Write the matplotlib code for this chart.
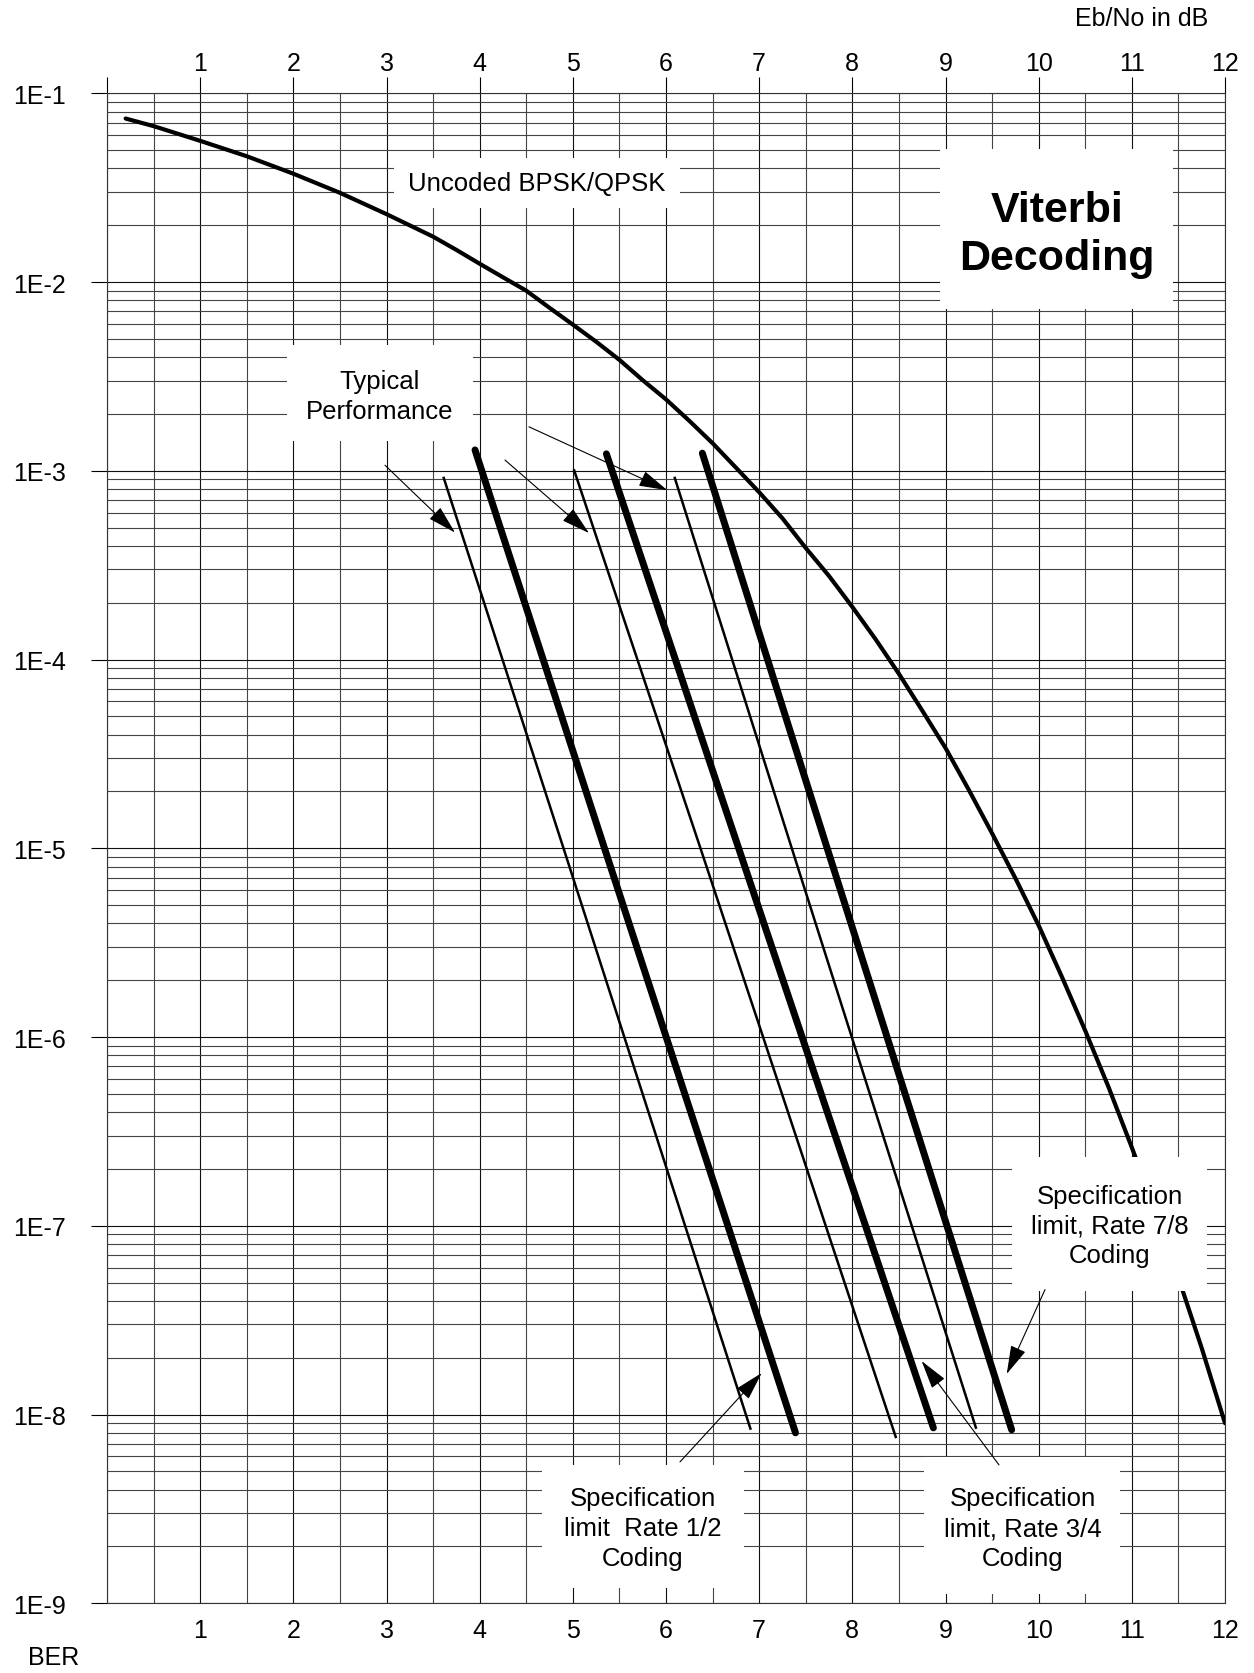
import numpy as np
import matplotlib
matplotlib.use("Agg")
import matplotlib.pyplot as plt
from matplotlib.patches import Rectangle
from matplotlib.ticker import FixedLocator, NullFormatter

plt.rcParams['font.family'] = ['Liberation Sans', 'DejaVu Sans']

# Uncoded BPSK/QPSK curve
ebno_uncoded = [0.2, 0.5, 1, 1.5, 2, 2.5, 3, 3.5, 3.75, 4, 4.25, 4.5, 4.75,
                5, 5.25, 5.5, 5.75, 6, 6.25, 6.5, 6.75, 7, 7.25, 7.5, 7.75,
                8, 8.25, 8.5, 8.75, 9, 9.25, 9.5, 9.75, 10, 10.25, 10.5,
                10.75, 11, 11.25, 11.5, 11.75, 12]
ber_uncoded = [7.35e-2, 6.7e-2, 5.6e-2, 4.64e-2, 3.75e-2, 2.97e-2, 2.29e-2,
               1.74e-2, 1.48e-2, 1.25e-2, 1.06e-2, 9.0e-3, 7.3e-3,
               5.95e-3, 4.83e-3, 3.87e-3, 3.02e-3, 2.39e-3, 1.84e-3, 1.4e-3,
               1.04e-3, 7.7e-4, 5.6e-4, 3.9e-4, 2.77e-4,
               1.9e-4, 1.28e-4, 8.4e-5, 5.37e-5, 3.4e-5, 2.04e-5, 1.2e-5,
               6.94e-6, 3.9e-6, 2.08e-6, 1.08e-6,
               5.43e-7, 2.6e-7, 1.21e-7, 5.3e-8, 2.25e-8, 9.0e-9]

# Viterbi coded lines: typical performance (thin) and specification limit (thick)
ebno_r12_typ = [3.61, 4.90, 6.91]
ber_r12_typ = [9.3e-4, 1e-5, 8.3e-9]
ebno_r12_spec = [3.95, 5.34, 7.39]
ber_r12_spec = [1.29e-3, 1e-5, 8.0e-9]
ebno_r34_typ = [5.01, 6.37, 8.47]
ber_r34_typ = [1.02e-3, 1e-5, 7.5e-9]
ebno_r34_spec = [5.36, 6.78, 8.87]
ber_r34_spec = [1.23e-3, 1e-5, 8.5e-9]
ebno_r78_typ = [6.09, 7.35, 9.33]
ber_r78_typ = [9.3e-4, 1e-5, 8.4e-9]
ebno_r78_spec = [6.39, 7.73, 9.71]
ber_r78_spec = [1.24e-3, 1e-5, 8.3e-9]

x_ticks = list(range(0, 13))
x_labels = [''] + [str(i) for i in range(1, 13)]
y_decades = [10.0 ** k for k in range(-9, 0)]
y_labels = ['1E-%d' % k for k in range(9, 0, -1)]

fig = plt.figure(figsize=(12.54, 16.74), dpi=100)
ax = fig.add_axes([0.08533, 0.04164, 0.89155, 0.90203])
ax.set_yscale('log')
ax.set_xlim(0, 12)
ax.set_ylim(1e-9, 1e-1)

# ticks / grid
ax.xaxis.set_major_locator(FixedLocator(x_ticks))
ax.xaxis.set_minor_locator(FixedLocator(np.arange(0.5, 12, 1.0)))
ax.set_xticklabels(x_labels)
ax.yaxis.set_major_locator(FixedLocator(y_decades))
minor_y = [m * d for d in y_decades[:-1] for m in range(2, 10)]
ax.yaxis.set_minor_locator(FixedLocator(minor_y))
ax.yaxis.set_minor_formatter(NullFormatter())
ax.set_yticklabels(y_labels)

ax.tick_params(axis='x', which='major', top=True, bottom=False, labeltop=True,
               labelbottom=True, direction='out', length=11.2, width=0.8,
               labelsize=18, pad=2)
ax.tick_params(axis='x', which='minor', top=False, bottom=False)
ax.tick_params(axis='y', which='major', left=True, right=False, direction='out',
               length=11.5, width=0.8, labelsize=18, pad=18)
ax.tick_params(axis='y', which='minor', left=False, right=False)
# bottom labels sit a little closer to the frame
for t in ax.xaxis.get_major_ticks():
    t.label1.set_y(0.0025)

ax.grid(True, which='major', color='#111111', lw=0.8)
ax.grid(True, which='minor', color='#444444', lw=0.8)
ax.set_axisbelow(True)
for s in ax.spines.values():
    s.set_linewidth(0.8)
    s.set_color('#333333')

# curves
ax.plot(ebno_uncoded, ber_uncoded, color='black', lw=3.0,
        solid_capstyle='round', solid_joinstyle='round', zorder=3)
for xs, ys in [(ebno_r12_typ, ber_r12_typ), (ebno_r34_typ, ber_r34_typ),
               (ebno_r78_typ, ber_r78_typ)]:
    ax.plot(xs, ys, color='black', lw=1.8, solid_capstyle='butt', zorder=3)
for xs, ys in [(ebno_r12_spec, ber_r12_spec), (ebno_r34_spec, ber_r34_spec),
               (ebno_r78_spec, ber_r78_spec)]:
    ax.plot(xs, ys, color='black', lw=5.0, solid_capstyle='round', zorder=3)


def white_box(x0, x1, y_lo, y_hi):
    ax.add_patch(Rectangle((x0, y_lo), x1 - x0, y_hi - y_lo, facecolor='white',
                           edgecolor='none', zorder=4))


white_box(3.08, 6.15, 0.0247, 0.0454)
white_box(8.94, 11.44, 7.18e-3, 5.06e-2)
white_box(1.93, 3.93, 1.44e-3, 4.63e-3)
white_box(4.67, 6.84, 1.2e-9, 5.4e-9)
white_box(8.77, 10.87, 1.12e-9, 5.96e-9)
white_box(9.71, 11.81, 4.52e-8, 2.31e-7)

txt = dict(ha='center', va='center', fontsize=18.5, zorder=6, linespacing=1.3)
ax.text(4.615, 0.0334, 'Uncoded BPSK/QPSK', **txt)
ax.text(2.93, 2.5e-3, 'Typical\nPerformance', **txt)
ax.text(5.748, 2.5e-9, 'Specification\nlimit  Rate 1/2\nCoding', **txt)
ax.text(9.828, 2.5e-9, 'Specification\nlimit, Rate 3/4\nCoding', **txt)
ax.text(10.765, 1.0e-7, 'Specification\nlimit, Rate 7/8\nCoding', **txt)
ax.text(10.196, 0.0179, 'Viterbi\nDecoding', ha='center', va='center',
        fontsize=31, fontweight='bold', zorder=6, linespacing=1.26)

arrow = dict(arrowstyle='-|>,head_length=0.9,head_width=0.25', color='black',
             lw=0.8, mutation_scale=20, shrinkA=0, shrinkB=0)
arrows = [((2.984, 1.07e-3), (3.735, 4.71e-4)),
          ((4.272, 1.14e-3), (5.173, 4.68e-4)),
          ((4.529, 1.71e-3), (6.014, 7.89e-4)),
          ((6.150, 5.61e-9), (7.027, 1.66e-8)),
          ((9.574, 5.41e-9), (8.744, 1.92e-8)),
          ((10.068, 4.59e-8), (9.657, 1.64e-8))]
for tail, tip in arrows:
    ax.annotate('', xy=tip, xytext=tail, arrowprops=arrow, zorder=5)

fig.text(0.910, 0.9885, 'Eb/No in dB', ha='center', va='center', fontsize=18)
fig.text(0.0431, 0.00956, 'BER', ha='center', va='center', fontsize=18)

fig.savefig('out.png', dpi=100)
